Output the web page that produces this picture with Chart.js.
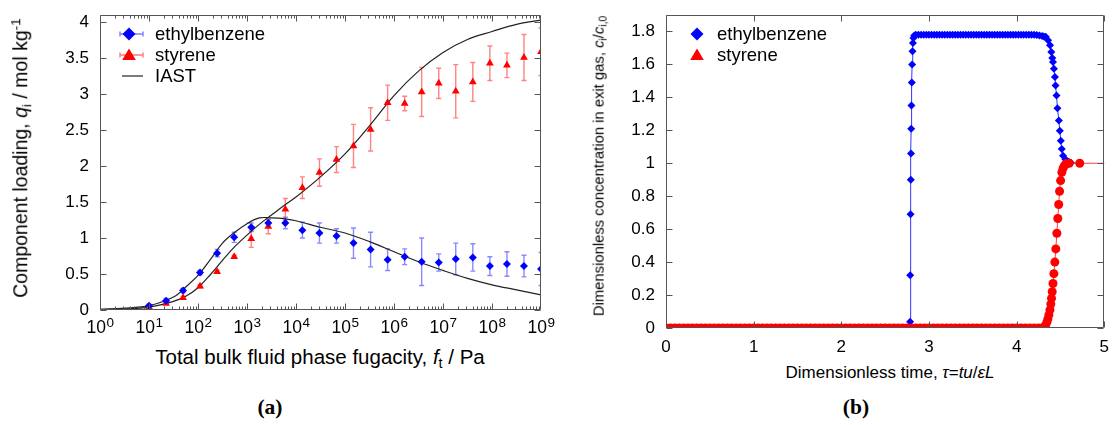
<!DOCTYPE html>
<html>
<head>
<meta charset="utf-8">
<script src="https://cdn.jsdelivr.net/npm/chart.js@4.4.0/dist/chart.umd.min.js"></script>
<style>
  body { margin: 0; background: #fff; width: 1118px; height: 425px; overflow: hidden; position: relative;
         font-family: "Liberation Sans", Arial, sans-serif; color: #000; }
  canvas { position: absolute; top: 0; }
  #left { left: 0; }
  #right { left: 560px; }
  .lbl { position: absolute; white-space: nowrap; transform: translate(-50%, -50%); line-height: 1; }
  .rot { transform: translate(-50%, -50%) rotate(-90deg); }
  .lbl sub { font-size: 70%; vertical-align: -0.3em; line-height: 0; }
  .lbl sup { font-size: 70%; vertical-align: 0.55em; line-height: 0; }
  .cap { font-family: "Liberation Serif", "Times New Roman", serif; font-weight: bold; font-size: 21.5px; }
</style>
</head>
<body>
<canvas id="left" width="560" height="340"></canvas>
<canvas id="right" width="558" height="360"></canvas>

<div class="lbl rot" style="left:21px; top:158px; font-size:19.5px;">Component loading, <i>q</i><sub>i</sub> / mol kg<sup>-1</sup></div>
<div class="lbl" style="left:320px; top:357px; font-size:20.5px;">Total bulk fluid phase fugacity, <i>f</i><sub>t</sub> / Pa</div>
<div class="lbl rot" style="left:599px; top:166px; font-size:14.8px;">Dimensionless concentration in exit gas, <i>c</i><sub>i</sub>/<i>c</i><sub>i,0</sub></div>
<div class="lbl" style="left:890px; top:372px; font-size:17px;">Dimensionless time, <i>τ</i>=<i>tu</i>/<i>εL</i></div>
<div class="lbl cap" style="left:270px; top:408px;">(a)</div>
<div class="lbl cap" style="left:856px; top:408px;">(b)</div>

<script>
// (a) component loadings vs total fugacity
const fugacity = [10, 22.3, 49.6, 110, 246, 548, 1220, 2720, 6060, 13500, 30100, 67000,
  149000, 333000, 741000, 1650000, 3670000, 8190000, 18200000, 40600000, 90500000, 202000000, 449000000, 1000000000];
const ebLoading = [0.06, 0.13, 0.27, 0.52, 0.79, 1.01, 1.15, 1.21, 1.21, 1.11, 1.07, 1.03,
  0.93, 0.84, 0.70, 0.74, 0.67, 0.66, 0.71, 0.73, 0.61, 0.64, 0.61, 0.57];
const ebError = [0.02, 0.03, 0.03, 0.03, 0.05, 0.07, 0.06, 0.05, 0.08, 0.11, 0.14, 0.10,
  0.21, 0.24, 0.15, 0.11, 0.33, 0.12, 0.22, 0.19, 0.13, 0.17, 0.15, 0.23];
const styLoading = [0.04, 0.09, 0.17, 0.33, 0.53, 0.74, 0.99, 1.16, 1.40, 1.70, 1.91, 2.09,
  2.28, 2.51, 2.88, 2.87, 3.03, 3.15, 3.04, 3.17, 3.43, 3.40, 3.51, 3.59];
const styError = [0.01, 0.01, 0.02, 0.02, 0.02, 0.02, 0.12, 0.10, 0.15, 0.15, 0.19, 0.18,
  0.30, 0.30, 0.245, 0.10, 0.34, 0.21, 0.37, 0.27, 0.24, 0.17, 0.32, 0.33];

const iastFugacity = [1, 3.16, 10, 31.6, 56.2, 100, 178, 316, 562, 1000, 1780, 3160, 5620, 10000,
  31600, 100000, 316000, 1000000, 3160000, 10000000, 31600000, 100000000, 316000000, 1000000000];
const iastEb = [0.01, 0.025, 0.06, 0.18, 0.32, 0.48, 0.70, 0.93, 1.08, 1.20, 1.28, 1.28, 1.27, 1.24,
  1.15, 1.07, 0.95, 0.81, 0.67, 0.55, 0.44, 0.35, 0.28, 0.21];
const iastSty = [0.005, 0.012, 0.04, 0.12, 0.19, 0.31, 0.49, 0.69, 0.88, 1.04, 1.19, 1.32, 1.45, 1.57,
  1.85, 2.17, 2.56, 2.98, 3.32, 3.58, 3.76, 3.87, 3.97, 4.03];

const fugacityTicks = [1, 10, 100, 1000, 10000, 100000, 1000000, 10000000, 100000000, 1000000000];

// (b) breakthrough curves
const ebTime = [0, 1, 2, 2.7, 2.75,
  2.785, 2.786, 2.79, 2.793, 2.795, 2.797, 2.80, 2.804, 2.808, 2.812, 2.817, 2.823, 2.832, 2.85,
  2.88, 2.91, 2.94, 2.97, 3.00, 3.03, 3.06, 3.09, 3.12, 3.15, 3.18, 3.21, 3.24, 3.27, 3.30, 3.33,
  3.36, 3.39, 3.42, 3.45, 3.48, 3.51, 3.54, 3.57, 3.60, 3.63, 3.66, 3.69, 3.72, 3.75, 3.78, 3.81,
  3.84, 3.87, 3.90, 3.93, 3.96, 3.99, 4.02, 4.05, 4.08, 4.11, 4.14, 4.17, 4.20, 4.23, 4.26, 4.29, 4.31,
  4.332, 4.359, 4.381, 4.396, 4.407, 4.415, 4.426, 4.437, 4.444, 4.455, 4.466, 4.482, 4.493, 4.504,
  4.515, 4.530, 4.556, 4.594, 4.62];
const ebConc = [0, 0, 0, 0, 0,
  0.038, 0.32, 0.69, 0.90, 1.06, 1.21, 1.35, 1.49, 1.60, 1.68, 1.73, 1.76, 1.775, 1.78,
  1.78, 1.78, 1.78, 1.78, 1.78, 1.78, 1.78, 1.78, 1.78, 1.78, 1.78, 1.78, 1.78, 1.78, 1.78, 1.78,
  1.78, 1.78, 1.78, 1.78, 1.78, 1.78, 1.78, 1.78, 1.78, 1.78, 1.78, 1.78, 1.78, 1.78, 1.78, 1.78,
  1.78, 1.78, 1.78, 1.78, 1.78, 1.78, 1.78, 1.78, 1.78, 1.78, 1.78, 1.78, 1.78, 1.778, 1.775, 1.772, 1.77,
  1.768, 1.747, 1.716, 1.676, 1.639, 1.615, 1.574, 1.523, 1.472, 1.411, 1.334, 1.259, 1.198, 1.137,
  1.086, 1.045, 1.025, 1.009, 1.003];

const styTime = [0, 0.05, 0.1, 0.15, 0.2, 0.25, 0.3, 0.35, 0.4, 0.45,
  0.5, 0.55, 0.6, 0.65, 0.7, 0.75, 0.8, 0.85, 0.9, 0.95,
  1.0, 1.05, 1.1, 1.15, 1.2, 1.25, 1.3, 1.35, 1.4, 1.45,
  1.5, 1.55, 1.6, 1.65, 1.7, 1.75, 1.8, 1.85, 1.9, 1.95,
  2.0, 2.05, 2.1, 2.15, 2.2, 2.25, 2.3, 2.35, 2.4, 2.45,
  2.5, 2.55, 2.6, 2.65, 2.7, 2.75, 2.8, 2.85, 2.9, 2.95,
  3.0, 3.05, 3.1, 3.15, 3.2, 3.25, 3.3, 3.35, 3.4, 3.45,
  3.5, 3.55, 3.6, 3.65, 3.7, 3.75, 3.8, 3.85, 3.9, 3.95,
  4.0, 4.05, 4.1, 4.15, 4.2, 4.25,
  4.30, 4.32, 4.33, 4.345, 4.357, 4.368, 4.38, 4.39, 4.398, 4.406, 4.415, 4.425, 4.436,
  4.447, 4.459, 4.47, 4.48, 4.49, 4.502, 4.516, 4.53, 4.545, 4.565, 4.60, 4.72, 5.2];
const styConc = [0, 0, 0, 0, 0, 0, 0, 0, 0, 0,
  0, 0, 0, 0, 0, 0, 0, 0, 0, 0,
  0, 0, 0, 0, 0, 0, 0, 0, 0, 0,
  0, 0, 0, 0, 0, 0, 0, 0, 0, 0,
  0, 0, 0, 0, 0, 0, 0, 0, 0, 0,
  0, 0, 0, 0, 0, 0, 0, 0, 0, 0,
  0, 0, 0, 0, 0, 0, 0, 0, 0, 0,
  0, 0, 0, 0, 0, 0, 0, 0, 0, 0,
  0, 0, 0, 0, 0, 0,
  0.002, 0.006, 0.016, 0.035, 0.055, 0.08, 0.11, 0.145, 0.18, 0.22, 0.27, 0.33, 0.40,
  0.48, 0.575, 0.665, 0.75, 0.83, 0.895, 0.945, 0.97, 0.986, 0.997, 1.0, 1.0, 1.0];

const BLUE = '#0000ff';
const RED = '#ff0000';
const FONT = '"Liberation Sans", Arial, sans-serif';

Chart.defaults.font.family = FONT;
Chart.defaults.color = '#000';
Chart.defaults.animation = false;

function pairs(xs, ys) {
  return xs.map((x, i) => ({ x: x, y: ys[i] }));
}

// vertical error bars with caps, drawn below the markers
const errorBarPlugin = {
  id: 'errorBars',
  beforeDatasetsDraw(chart) {
    const { ctx, chartArea: a, scales: { y } } = chart;
    ctx.save();
    ctx.beginPath();
    ctx.rect(a.left, a.top, a.width, a.height);
    ctx.clip();
    chart.data.datasets.forEach((ds, i) => {
      if (!ds.errors) return;
      const meta = chart.getDatasetMeta(i);
      ctx.strokeStyle = ds.errorColor;
      ctx.lineWidth = 1.4;
      meta.data.forEach((pt, j) => {
        const v = ds.data[j].y, e = ds.errors[j];
        const y1 = y.getPixelForValue(v - e), y2 = y.getPixelForValue(v + e);
        ctx.beginPath();
        ctx.moveTo(pt.x, y1); ctx.lineTo(pt.x, y2);
        ctx.moveTo(pt.x - 2.5, y1); ctx.lineTo(pt.x + 2.5, y1);
        ctx.moveTo(pt.x - 2.5, y2); ctx.lineTo(pt.x + 2.5, y2);
        ctx.stroke();
      });
    });
    ctx.restore();
  }
};

// gnuplot-like box with inward ticks (and 10^n labels on the log axis)
const framePlugin = {
  id: 'frame',
  afterDatasetsDraw(chart, args, opts) {
    const { ctx, chartArea: a, scales: { x, y } } = chart;
    const L = Math.round(a.left) + 0.5, R = Math.round(a.right) - 0.5;
    const T = Math.round(a.top) + 0.5, B = Math.round(a.bottom) - 0.5;
    ctx.save();
    ctx.strokeStyle = '#555';
    ctx.lineWidth = 1;
    ctx.beginPath();
    ctx.rect(L, T, R - L, B - T);
    const tick = (px, len, vertical) => {
      if (vertical) {
        ctx.moveTo(px, B); ctx.lineTo(px, B - len);
        ctx.moveTo(px, T); ctx.lineTo(px, T + len);
      } else {
        ctx.moveTo(L, px); ctx.lineTo(L + len, px);
        ctx.moveTo(R, px); ctx.lineTo(R - len, px);
      }
    };
    y.ticks.forEach(t => tick(Math.round(y.getPixelForValue(t.value)) + 0.5, 6, false));
    if (opts.logX) {
      for (let e = 0; e < 9; e++) {
        for (let k = 1; k < 10; k++) {
          const px = Math.round(x.getPixelForValue(k * Math.pow(10, e))) + 0.5;
          tick(px, k === 1 ? 6 : 3, true);
        }
      }
    } else {
      x.ticks.forEach(t => tick(Math.round(x.getPixelForValue(t.value)) + 0.5, 6, true));
    }
    ctx.stroke();

    if (opts.logX) {
      ctx.fillStyle = '#000';
      ctx.textBaseline = 'alphabetic';
      ctx.textAlign = 'left';
      fugacityTicks.forEach(v => {
        const exp = String(Math.round(Math.log10(v)));
        const px = x.getPixelForValue(v);
        ctx.font = '17.5px ' + FONT;
        const wBase = ctx.measureText('10').width;
        ctx.font = '13.5px ' + FONT;
        const wExp = ctx.measureText(exp).width;
        const left = px - (wBase + wExp) / 2;
        ctx.font = '17.5px ' + FONT;
        ctx.fillText('10', left, a.bottom + 22.5);
        ctx.font = '13.5px ' + FONT;
        ctx.fillText(exp, left + wBase + 0.5, a.bottom + 16.5);
      });
    }
    ctx.restore();
  }
};

// key inside the plot area
function drawMarker(ctx, shape, cx, cy, r, color) {
  ctx.fillStyle = color;
  ctx.beginPath();
  if (shape === 'diamond') {
    ctx.moveTo(cx, cy - r); ctx.lineTo(cx + r, cy); ctx.lineTo(cx, cy + r); ctx.lineTo(cx - r, cy);
  } else if (shape === 'triangle') {
    ctx.moveTo(cx, cy - r); ctx.lineTo(cx + r * 1.05, cy + r * 0.75); ctx.lineTo(cx - r * 1.05, cy + r * 0.75);
  }
  ctx.closePath();
  ctx.fill();
}

const keyPlugin = {
  id: 'key',
  afterDraw(chart, args, opts) {
    const { ctx, chartArea: a } = chart;
    ctx.save();
    ctx.font = '18.5px ' + FONT;
    ctx.textBaseline = 'middle';
    opts.items.forEach((it, i) => {
      const cy = a.top + 19 + i * 21;
      const cx = a.left + opts.markX;
      if (it.bar) {
        ctx.strokeStyle = it.bar;
        ctx.lineWidth = 1.4;
        ctx.beginPath();
        ctx.moveTo(a.left + 20, cy); ctx.lineTo(a.left + 43, cy);
        ctx.moveTo(a.left + 20, cy - 2.5); ctx.lineTo(a.left + 20, cy + 2.5);
        ctx.moveTo(a.left + 43, cy - 2.5); ctx.lineTo(a.left + 43, cy + 2.5);
        ctx.stroke();
      }
      if (it.shape === 'line') {
        ctx.strokeStyle = '#222';
        ctx.lineWidth = 1.2;
        ctx.beginPath();
        ctx.moveTo(a.left + 22, cy); ctx.lineTo(a.left + 43, cy);
        ctx.stroke();
      } else {
        drawMarker(ctx, it.shape, cx, cy, 6.5, it.color);
      }
      ctx.fillStyle = '#000';
      ctx.fillText(it.label, a.left + opts.textX, cy + 1);
    });
    ctx.restore();
  }
};

new Chart(document.getElementById('left'), {
  type: 'scatter',
  data: {
    datasets: [
      { label: 'ethylbenzene', data: pairs(fugacity, ebLoading), errors: ebError,
        errorColor: 'rgba(40,40,255,0.55)', pointStyle: 'rectRot', pointRadius: 4,
        backgroundColor: BLUE, borderWidth: 0, showLine: false, order: 1 },
      { label: 'styrene', data: pairs(fugacity, styLoading), errors: styError,
        errorColor: 'rgba(255,30,30,0.55)', pointStyle: 'triangle', pointRadius: 4.5,
        backgroundColor: RED, borderWidth: 0, showLine: false, order: 2 },
      { label: 'IAST ethylbenzene', data: pairs(iastFugacity, iastEb), showLine: true,
        borderColor: '#222', borderWidth: 1.2, pointRadius: 0, tension: 0.35, order: 3 },
      { label: 'IAST styrene', data: pairs(iastFugacity, iastSty), showLine: true,
        borderColor: '#222', borderWidth: 1.2, pointRadius: 0, tension: 0.35, order: 4 }
    ]
  },
  options: {
    responsive: false,
    layout: { padding: { top: 15, right: 19, left: 0, bottom: 0 } },
    scales: {
      x: {
        type: 'logarithmic', min: 1, max: 1e9,
        afterBuildTicks: s => { s.ticks = fugacityTicks.map(v => ({ value: v })); },
        afterFit: s => { s.height = 30; },
        grid: { display: false, drawTicks: false }, border: { display: false },
        ticks: { display: false }
      },
      y: {
        min: 0, max: 4.1,
        afterFit: s => { s.width = 100; },
        grid: { display: false, drawTicks: false }, border: { display: false },
        ticks: { stepSize: 0.5, includeBounds: false, font: { size: 17, lineHeight: 0.4 }, padding: 11,
          callback: v => String(v) }
      }
    },
    plugins: {
      legend: { display: false }, tooltip: { enabled: false },
      frame: { logX: true },
      key: { markX: 29, textX: 55, items: [
        { label: 'ethylbenzene', shape: 'diamond', color: BLUE, bar: 'rgba(40,40,255,0.6)' },
        { label: 'styrene', shape: 'triangle', color: RED, bar: 'rgba(255,30,30,0.6)' },
        { label: 'IAST', shape: 'line' }
      ] }
    }
  },
  plugins: [errorBarPlugin, framePlugin, keyPlugin]
});

new Chart(document.getElementById('right'), {
  type: 'scatter',
  data: {
    datasets: [
      { label: 'styrene', data: pairs(styTime, styConc), showLine: true,
        borderColor: 'rgba(255,0,0,0.75)', borderWidth: 1, pointStyle: 'circle', pointRadius: 4.5,
        backgroundColor: RED, pointBorderWidth: 0, tension: 0, order: 1 },
      { label: 'ethylbenzene', data: pairs(ebTime, ebConc), showLine: true,
        borderColor: 'rgba(0,0,255,0.8)', borderWidth: 1, pointStyle: 'rectRot', pointRadius: 4,
        backgroundColor: BLUE, pointBorderWidth: 0, tension: 0, order: 2 }
    ]
  },
  options: {
    responsive: false,
    layout: { padding: { top: 15, right: 5, left: 0, bottom: 0 } },
    scales: {
      x: {
        type: 'linear', min: 0, max: 5,
        afterFit: s => { s.height = 32; },
        grid: { display: false, drawTicks: false }, border: { display: false },
        ticks: { stepSize: 1, font: { size: 17 }, padding: 9, maxRotation: 0 }
      },
      y: {
        min: 0, max: 1.9,
        afterFit: s => { s.width = 106; },
        grid: { display: false, drawTicks: false }, border: { display: false },
        ticks: { stepSize: 0.2, includeBounds: false, font: { size: 17, lineHeight: 0.4 }, padding: 11,
          callback: v => String(Math.round(v * 10) / 10) }
      }
    },
    plugins: {
      legend: { display: false }, tooltip: { enabled: false },
      frame: { logX: false },
      key: { markX: 31, textX: 51, items: [
        { label: 'ethylbenzene', shape: 'diamond', color: BLUE },
        { label: 'styrene', shape: 'triangle', color: RED }
      ] }
    }
  },
  plugins: [errorBarPlugin, framePlugin, keyPlugin]
});
</script>
</body>
</html>
